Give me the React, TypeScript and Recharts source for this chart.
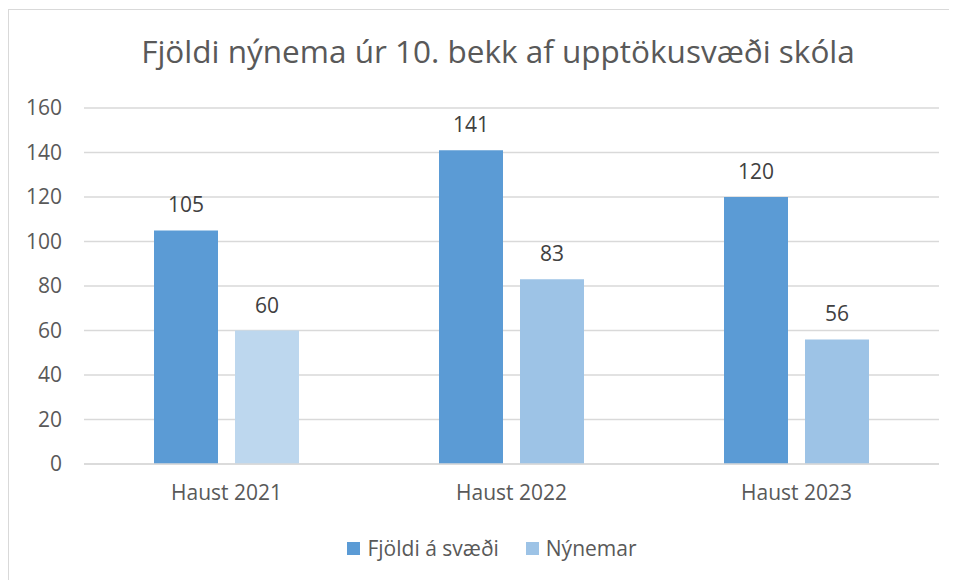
import React from 'react';
import { BarChart, Bar, XAxis, YAxis, CartesianGrid, Legend, LabelList, Cell } from 'recharts';

const categories = ['Haust 2021', 'Haust 2022', 'Haust 2023'];
const fjoldiAsvaedi = [105, 141, 120];
const nynemar = [60, 83, 56];
const yTicks = [0, 20, 40, 60, 80, 100, 120, 140, 160];

const nynemarColors = ['#BDD7EE', '#9DC3E6', '#9DC3E6'];

const data = categories.map((name, i) => ({
  name,
  fjoldi: fjoldiAsvaedi[i],
  nynemar: nynemar[i],
}));

const FONT = '"Open Sans", sans-serif';

const legendItems = [
  { label: 'Fjöldi á svæði', color: '#5B9BD5' },
  { label: 'Nýnemar', color: '#9DC3E6' },
];

// custom legend so spacing matches the original
const renderLegend = () => (
  <div style={{ display: 'flex', justifyContent: 'center', paddingLeft: 36, fontFamily: FONT, fontSize: 21, color: '#595959', lineHeight: '26px' }}>
    {legendItems.map((item, i) => (
      <div key={item.label} style={{ display: 'flex', alignItems: 'center', marginLeft: i === 0 ? 0 : 27 }}>
        <span style={{ display: 'inline-block', width: 13, height: 13, background: item.color, marginRight: 7 }} />
        <span>{item.label}</span>
      </div>
    ))}
  </div>
);

export default function App() {
  return (
    <div
      style={{
        position: 'relative',
        width: 949,
        height: 572,
        marginTop: 1,
        borderTop: '1px solid #d9d9d9',
        borderLeft: '1px solid #d9d9d9',
        background: '#fff',
      }}
    >
      <div
        style={{
          position: 'absolute',
          left: 0,
          width: 978,
          top: 19,
          textAlign: 'center',
          fontFamily: FONT,
          fontSize: 31.5,
          color: '#595959',
          whiteSpace: 'nowrap',
        }}
      >
        Fjöldi nýnema úr 10. bekk af upptökusvæði skóla
      </div>
      <BarChart
        width={948}
        height={570}
        data={data}
        margin={{ top: 98, right: 18, left: 0, bottom: 19 }}
        barGap={17}
        barSize={64}
      >
        <CartesianGrid vertical={false} stroke="#d9d9d9" strokeWidth={1.5} />
        <XAxis
          dataKey="name"
          height={71}
          axisLine={{ stroke: '#d9d9d9', strokeWidth: 1.5 }}
          tickLine={false}
          tickSize={0}
          tickMargin={21}
          tick={{ fill: '#595959', fontSize: 21, fontFamily: FONT }}
        />
        <YAxis
          width={75}
          domain={[0, 160]}
          ticks={yTicks}
          axisLine={false}
          tickLine={false}
          tickSize={0}
          tickMargin={22}
          tick={{ fill: '#595959', fontSize: 21, fontFamily: FONT }}
        />
        <Legend verticalAlign="bottom" height={26} content={renderLegend} />
        <Bar dataKey="fjoldi" name="Fjöldi á svæði" fill="#5B9BD5" isAnimationActive={false}>
          <LabelList dataKey="fjoldi" position="top" offset={18} fill="#404040" fontSize={21} fontFamily={FONT} />
        </Bar>
        <Bar dataKey="nynemar" name="Nýnemar" fill="#9DC3E6" isAnimationActive={false}>
          {data.map((d, i) => (
            <Cell key={d.name} fill={nynemarColors[i]} />
          ))}
          <LabelList dataKey="nynemar" position="top" offset={18} fill="#404040" fontSize={21} fontFamily={FONT} />
        </Bar>
      </BarChart>
    </div>
  );
}
